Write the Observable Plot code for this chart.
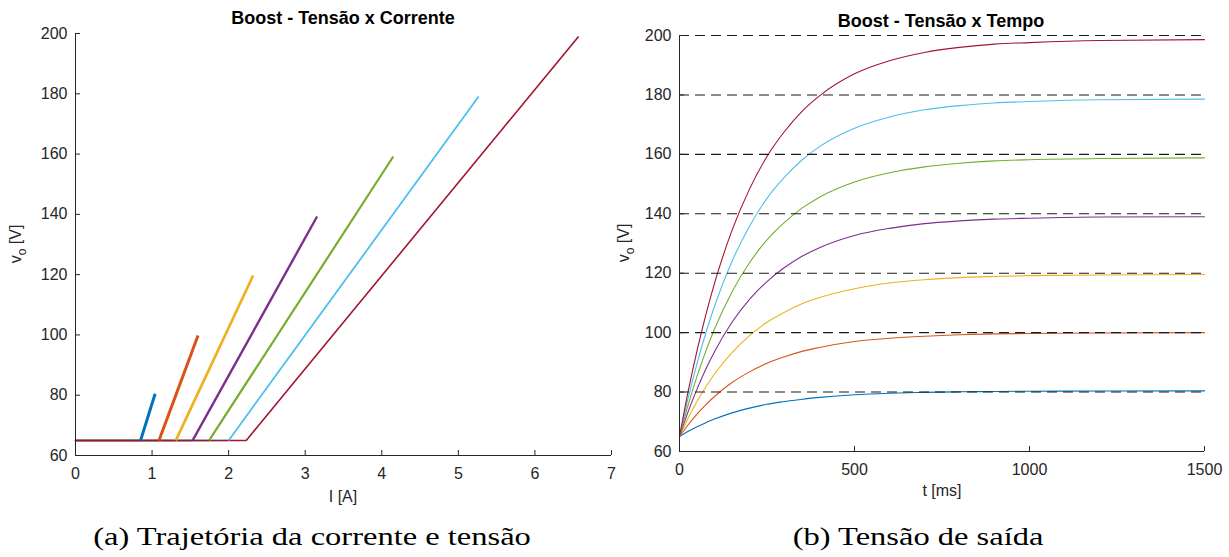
<!DOCTYPE html>
<html><head><meta charset="utf-8">
<script src="https://cdn.jsdelivr.net/npm/d3@7"></script>
<script src="https://cdn.jsdelivr.net/npm/@observablehq/plot@0.6"></script>
<style>
body{margin:0;background:#fff;}
#wrap{position:relative;width:1229px;height:557px;overflow:hidden;font-family:"Liberation Sans",Arial,sans-serif;}
.abs{position:absolute;white-space:nowrap;line-height:1;}
.title{font-weight:bold;font-size:18px;color:#000;transform:translate(-50%,-50%);}
.xlab{font-size:16px;color:#262626;transform:translate(-50%,-50%);}
.ylab{font-size:16px;color:#262626;transform:translate(-50%,-50%) rotate(-90deg);}
.ylab sub{font-size:12px;vertical-align:-5px;}
.cap{font-family:"Liberation Serif",serif;font-size:26px;color:#000;transform:translate(-50%,-50%) scaleX(1.25);}
#p1,#p2{position:absolute;top:0;}
</style></head>
<body>
<div id="wrap">
  <div id="p1" style="left:0"></div>
  <div id="p2" style="left:614px"></div>
  <div class="abs title" style="left:343px;top:18px">Boost - Tensão x Corrente</div>
  <div class="abs title" style="left:941px;top:21px">Boost - Tensão x Tempo</div>
  <div class="abs xlab" style="left:343px;top:497px">I [A]</div>
  <div class="abs xlab" style="left:942px;top:491px">t [ms]</div>
  <div class="abs ylab" style="left:18px;top:244px">v<sub>o</sub> [V]</div>
  <div class="abs ylab" style="left:626px;top:243px">v<sub>o</sub> [V]</div>
  <div class="abs cap" style="left:312px;top:537px">(a) Trajetória da corrente e tensão</div>
  <div class="abs cap" style="left:918px;top:537px">(b) Tensão de saída</div>
</div>
<script>
// ---- data ----
const colors = ["#0072BD","#D95319","#EDB120","#7E2F8E","#77AC30","#4DBEEE","#A2142F"];
const v0 = 65;
// left panel: current where voltage starts rising, end current, end voltage
const iStart = [0.85, 1.09, 1.31, 1.53, 1.745, 2.0, 2.23];
const iEnd   = [1.04, 1.60, 2.32, 3.155, 4.15, 5.265, 6.57];
const vEnd   = [80.5, 99.8, 119.7, 139.3, 159.2, 179.1, 199.0];
const xTicksA = [0,1,2,3,4,5,6,7];
const yTicks = [60,80,100,120,140,160,180,200];
// right panel: time samples (ms) and voltage per series
const tMs = [0,25,50,75,100,150,200,250,300,350,400,500,600,700,800,900,1000,1200,1500];
const vBlue   = [65,66.8,68.3,69.7,70.9,73.0,74.6,75.9,76.8,77.6,78.2,79.1,79.6,79.9,80.1,80.2,80.3,80.35,80.4];
const vOrange = [65,69.0,72.6,75.7,78.5,83.2,86.8,89.7,91.9,93.7,95.0,97.0,98.1,98.8,99.3,99.6,99.7,99.9,100.0];
const vYellow = [65,71.3,76.8,81.7,86.1,93.3,99.0,103.5,106.9,109.7,111.8,114.8,116.7,117.8,118.5,118.9,119.2,119.4,119.55];
const vPurple = [65,73.5,81.0,87.7,93.6,103.5,111.2,117.2,121.9,125.7,128.6,132.7,135.1,136.7,137.6,138.2,138.5,138.9,139.0];
const vGreen  = [65,75.8,85.3,93.7,101.2,113.7,123.5,131.2,137.1,141.9,145.6,150.7,153.8,155.8,157.0,157.8,158.2,158.6,158.8];
const vCyan   = [65,78.1,89.6,99.8,108.9,124.0,135.8,145.2,152.3,158.1,162.6,168.8,172.6,175.0,176.4,177.3,177.8,178.4,178.6];
const vRed    = [65,80.4,93.9,105.9,116.6,134.4,148.3,159.3,167.7,174.5,179.7,187.1,191.5,194.3,196.0,197.1,197.6,198.3,198.6];
const vSeries = [vBlue,vOrange,vYellow,vPurple,vGreen,vCyan,vRed];
const refLevels = [80,100,120,140,160,180,200];
const xTicksB = [0,500,1000,1500];

const axisColor = "#262626";
const style = {fontFamily:"'Liberation Sans', Arial, sans-serif", fontSize:"16px", color:axisColor, background:"transparent", overflow:"visible"};

// ---- left plot ----
{
  const W=620,H=510,mL=75,mR=9,mT=33,mB=55;
  const riseW = [3,3,2.7,2.4,2.2,1.8,1.6];
  const marks = [];
  colors.forEach((c,k)=>{
    marks.push(Plot.line([{i:0,v:v0},{i:iStart[k],v:v0}],{x:"i",y:"v",stroke:c,strokeWidth:1.4}));
  });
  colors.forEach((c,k)=>{
    marks.push(Plot.line([{i:iStart[k],v:v0},{i:iEnd[k],v:vEnd[k]}],{x:"i",y:"v",stroke:c,strokeWidth:riseW[k],strokeLinecap:"butt"}));
  });
  marks.push(Plot.ruleX([0],{stroke:axisColor}));
  marks.push(Plot.ruleY([60],{stroke:axisColor}));
  marks.push(Plot.tickX(xTicksA,{x:d=>d,insetTop:(H-mT-mB)-5,stroke:axisColor}));
  marks.push(Plot.tickY(yTicks,{y:d=>d,insetRight:(W-mL-mR)-5,stroke:axisColor}));
  marks.push(Plot.axisX({ticks:xTicksA,tickSize:0,tickPadding:12,label:null,tickFormat:d=>String(d)}));
  marks.push(Plot.axisY({ticks:yTicks,tickSize:0,tickPadding:8,label:null,tickFormat:d=>String(d)}));
  const p = Plot.plot({width:W,height:H,marginLeft:mL,marginRight:mR,marginTop:mT,marginBottom:mB,
    x:{domain:[0,7]}, y:{domain:[60,200]}, style, marks});
  document.getElementById("p1").appendChild(p);
}
// ---- right plot ----
{
  const W=615,H=510,mL=65,mR=25,mT=35,mB=59;
  const marks = [];
  vSeries.forEach((vals,k)=>{
    const data = tMs.map((t,i)=>({t, v: vals[i]}));
    marks.push(Plot.line(data,{x:"t",y:"v",stroke:colors[k],strokeWidth:1.1,curve:"monotone-x"}));
  });
  marks.push(Plot.ruleY(refLevels,{stroke:"#1a1a1a",strokeWidth:1.1,strokeDasharray:"10,6"}));
  marks.push(Plot.ruleX([0],{stroke:axisColor}));
  marks.push(Plot.ruleY([60],{stroke:axisColor}));
  marks.push(Plot.tickX(xTicksB,{x:d=>d,insetTop:(H-mT-mB)-5,stroke:axisColor}));
  marks.push(Plot.tickY(yTicks,{y:d=>d,insetRight:(W-mL-mR)-5,stroke:axisColor}));
  marks.push(Plot.axisX({ticks:xTicksB,tickSize:0,tickPadding:12,label:null,tickFormat:d=>String(d)}));
  marks.push(Plot.axisY({ticks:yTicks,tickSize:0,tickPadding:8,label:null,tickFormat:d=>String(d)}));
  const p = Plot.plot({width:W,height:H,marginLeft:mL,marginRight:mR,marginTop:mT,marginBottom:mB,
    x:{domain:[0,1500]}, y:{domain:[60,200]}, style, marks});
  document.getElementById("p2").appendChild(p);
}
</script>
</body></html>
